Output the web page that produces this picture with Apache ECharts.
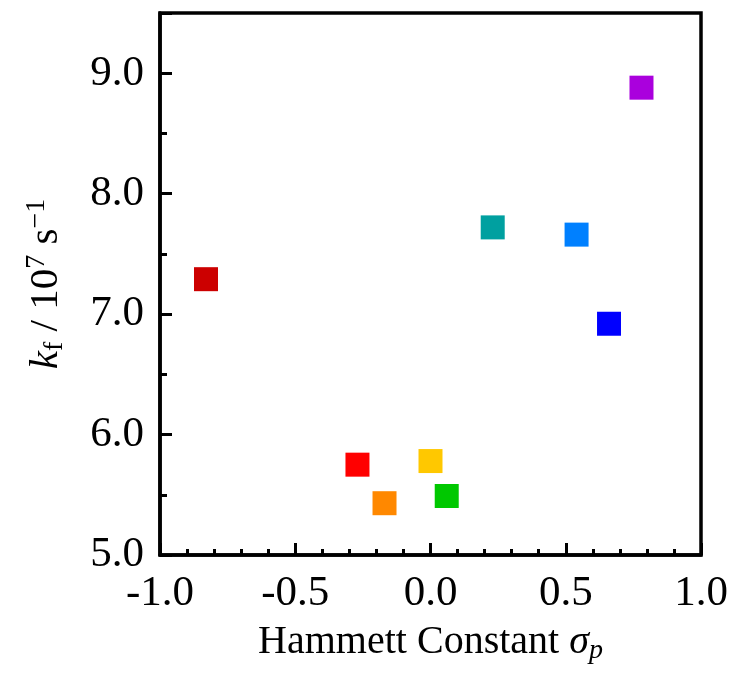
<!DOCTYPE html>
<html>
<head>
<meta charset="utf-8">
<script src="https://cdn.jsdelivr.net/npm/echarts@6/dist/echarts.min.js"></script>
<style>
  html, body { margin: 0; padding: 0; background: #fff; }
  #chart { width: 737px; height: 675px; }
</style>
</head>
<body>
<div id="chart"></div>
<script>
// Hammett constants (sigma_p) and fluorescence rate constants (10^7 s^-1)
const sigmaP = [-0.83, -0.27, -0.17, 0.00, 0.06, 0.23, 0.54, 0.66, 0.78]
const kf = [7.29, 5.75, 5.43, 5.78, 5.49, 7.72, 7.66, 6.92, 8.88]
const colors = ['#CC0000', '#FF0000', '#FF8800', '#FFC800', '#00C800', '#00A0A0', '#0080FF', '#0000FF', '#AA00DD']

const font = 'Liberation Serif, Times New Roman, serif'

const chart = echarts.init(document.getElementById('chart'))

const option = {
  animation: false,
  grid: {
    left: 160,
    right: 36,
    top: 13,
    bottom: 120,
    show: true,
    borderColor: '#000',
    borderWidth: 3.5,
    backgroundColor: 'transparent'
  },
  xAxis: {
    type: 'value',
    min: -1,
    max: 1,
    interval: 0.5,
    name: '{t|Hammett Constant }{i|σ}{sub|p}',
    nameLocation: 'middle',
    nameGap: 64,
    nameTextStyle: {
      rich: {
        t: { fontFamily: font, fontSize: 40, color: '#000' },
        i: { fontFamily: font, fontSize: 40, fontStyle: 'italic', color: '#000' },
        sub: { fontFamily: font, fontSize: 28, fontStyle: 'italic', color: '#000', padding: [18, 0, 0, 0] }
      }
    },
    axisLine: { onZero: false, lineStyle: { color: '#000', width: 3.5 } },
    axisTick: { inside: true, length: 12, lineStyle: { color: '#000', width: 3 } },
    minorTick: { show: true, splitNumber: 5, length: 6, lineStyle: { color: '#000', width: 3 } },
    splitLine: { show: false },
    axisLabel: {
      margin: 17,
      fontFamily: font,
      fontSize: 43,
      color: '#000',
      formatter: v => v.toFixed(1)
    }
  },
  yAxis: {
    type: 'value',
    min: 5,
    max: 9.5,
    interval: 1,
    name: '{i|k}{sub|f}{t| / 10}{sup|7}{t| s}{sup|−1}',
    nameLocation: 'middle',
    nameRotate: 90,
    nameGap: 91,
    nameTextStyle: {
      rich: {
        t: { fontFamily: font, fontSize: 41, color: '#000' },
        i: { fontFamily: font, fontSize: 41, fontStyle: 'italic', color: '#000' },
        sub: { fontFamily: font, fontSize: 28, color: '#000', padding: [18, 0, 0, 0] },
        sup: { fontFamily: font, fontSize: 28, color: '#000', padding: [0, 0, 18, 0] }
      }
    },
    axisLine: { onZero: false, lineStyle: { color: '#000', width: 3.5 } },
    axisTick: { inside: true, length: 12, lineStyle: { color: '#000', width: 3 } },
    minorTick: { show: true, splitNumber: 2, length: 7, lineStyle: { color: '#000', width: 3 } },
    splitLine: { show: false },
    axisLabel: {
      margin: 16,
      fontFamily: font,
      fontSize: 43,
      color: '#000',
      formatter: v => (v > 9.1 ? '' : v.toFixed(1))
    }
  },
  series: [
    {
      type: 'scatter',
      symbol: 'rect',
      symbolSize: 24,
      data: sigmaP.map((x, i) => ({
        value: [x, kf[i]],
        itemStyle: { color: colors[i], opacity: 1 }
      }))
    }
  ]
}

chart.setOption(option)
window.addEventListener('resize', () => chart.resize())
</script>
</body>
</html>
